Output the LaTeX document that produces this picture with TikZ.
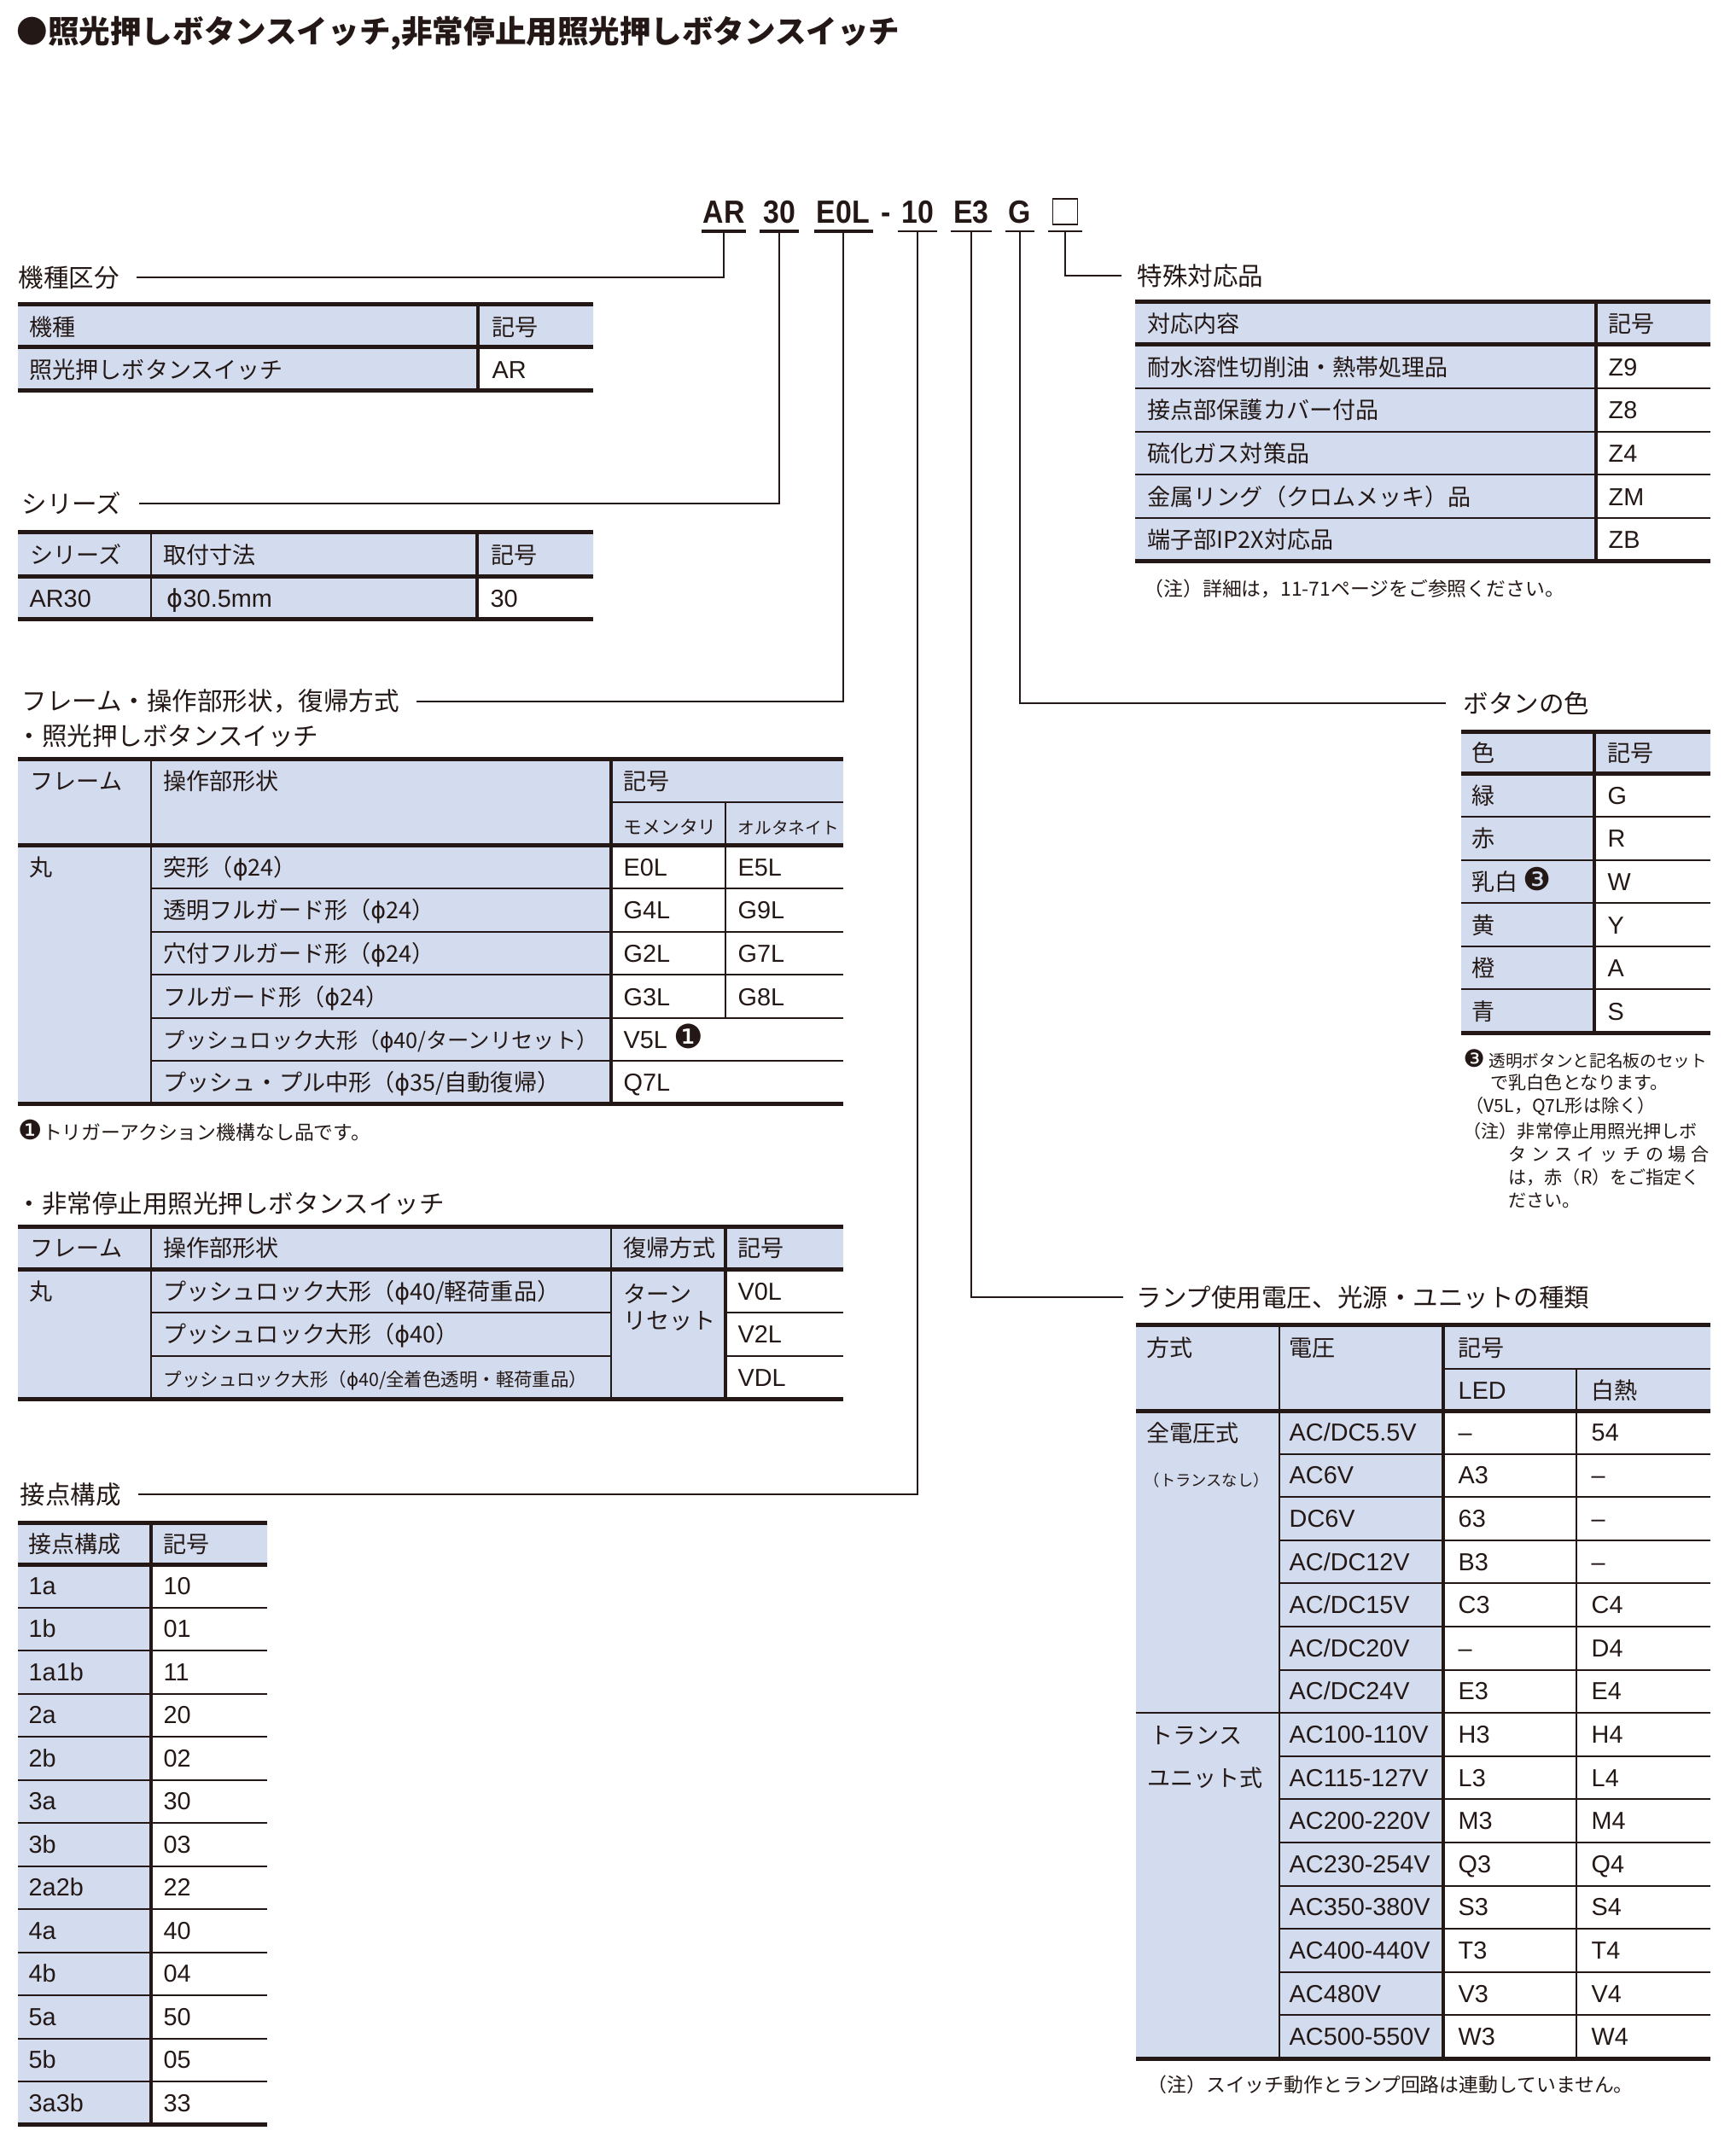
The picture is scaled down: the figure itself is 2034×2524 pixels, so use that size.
\documentclass[tikz,border=0pt]{standalone}
\usepackage{fontspec}
\setmainfont{Liberation Sans}
\newfontfamily\jpfont{Noto Sans CJK JP}
\newfontfamily\dingfont{DejaVu Sans}
\newfontfamily\partfont[FakeStretch=0.9]{Liberation Sans}
\newcommand\dia{{\dingfont ϕ}}
\newcommand\circnum[2]{{\dingfont\fontsize{#2}{#2}\selectfont #1}}
\definecolor{ink}{RGB}{35,24,21}
\definecolor{cellblue}{RGB}{211,220,238}

\begin{document}
\begin{tikzpicture}[x=0.1mm,y=-0.1mm,
  every node/.style={inner sep=0pt,text=ink},
  tcell/.style={anchor=west,font=\jpfont\fontsize{7.7}{9}\selectfont,text height=6.8pt,text depth=0.9pt},
  tcode/.style={anchor=west,font=\fontsize{8.2}{9}\selectfont,text height=6.8pt,text depth=0.9pt},
  tnote/.style={anchor=west,font=\jpfont\fontsize{6.5}{8}\selectfont},
  tsect/.style={anchor=west,font=\jpfont\fontsize{8.4}{10}\selectfont},
  codepart/.style={anchor=base,font=\partfont\bfseries\fontsize{10.7}{12}\selectfont},
  hair/.style={draw=ink,line width=0.2mm},
  heavy/.style={draw=ink,line width=0.5mm},
  colsep/.style={draw=ink,line width=0.4mm},
  link/.style={draw=ink,line width=0.2mm}]

\useasboundingbox (0,0) rectangle (2034,2524);

% title
\node[anchor=base west,font=\jpfont\bfseries\fontsize{10.4}{12}\selectfont] (title) at (19,51) {●照光押しボタンスイッチ,非常停止用照光押しボタンスイッチ};

% type code
\node[codepart] (pAR) at (848,262) {AR};
\node[codepart] (p30) at (913,262) {30};
\node[codepart] (pE0L) at (988,262) {E0L};
\node[codepart] (pDash) at (1038,262) {-};
\node[codepart] (p10) at (1075,262) {10};
\node[codepart] (pE3) at (1138,262) {E3};
\node[codepart] (pG) at (1195,262) {G};
\node[draw=ink,line width=0.15mm,minimum width=2.9mm,minimum height=3mm] (pBox) at (1248,248) {};

\draw[ink,line width=0.4mm] (822,271) -- (874,271) (890,271) -- (936,271) (954,271) -- (1023,271);
\draw[ink,line width=0.18mm] (1052,271) -- (1098,271) (1114,271) -- (1162,271) (1178,271) -- (1212,271) (1228,271) -- (1268,271);

\coordinate (uAR) at (848,271);
\coordinate (u30) at (913,271);
\coordinate (uE0L) at (988,271);
\coordinate (u10) at (1075,271);
\coordinate (uE3) at (1138,271);
\coordinate (uG) at (1195,271);
\coordinate (uBox) at (1248,271);

% section labels
\node[tsect] (sKind) at (21,325) {機種区分};
\node[tsect] (sSeries) at (25,590) {シリーズ};
\node[tsect] (sFrame) at (25,822) {フレーム・操作部形状，復帰方式};
\node[tsect] (sContact) at (23,1751) {接点構成};
\node[tsect] (sSpecial) at (1332,323) {特殊対応品};
\node[tsect] (sColor) at (1714,824) {ボタンの色};
\node[tsect] (sLamp) at (1331,1520) {ランプ使用電圧、光源・ユニットの種類};

\draw[link] (uAR) |- ([xshift=2mm]sKind.east);
\draw[link] (u30) |- ([xshift=2mm]sSeries.east);
\draw[link] (uE0L) |- ([xshift=2mm]sFrame.east);
\draw[link] (u10) |- ([xshift=2mm]sContact.east);
\draw[link] (uE3) |- ([xshift=-1.5mm]sLamp.west);
\draw[link] (uG) |- ([xshift=-2mm]sColor.west);
\draw[link] (uBox) |- ([xshift=-1.8mm]sSpecial.west);

% kind
\fill[cellblue] (21,357) rectangle (695,407) (21,407) rectangle (560,457);
\draw[heavy] (21,357) -- (695,357) (21,407) -- (695,407) (21,457) -- (695,457);
\draw[colsep] (560,357) -- (560,457);
\node[tcell] (kHead) at (34,383) {機種};
\node[tcell] (kHeadSym) at (576,383) {記号};
\node[tcell] (kName) at (34,433) {照光押しボタンスイッチ};
\node[tcode] (kSym) at (576,433) {AR};

% series
\fill[cellblue] (21,623) rectangle (695,675) (21,675) rectangle (559,725);
\draw[heavy] (21,623) -- (695,623) (21,675) -- (695,675) (21,725) -- (695,725);
\draw[hair] (177,623) -- (177,725);
\draw[colsep] (559,623) -- (559,725);
\node[tcell] (srHead) at (35,650) {シリーズ};
\node[tcell] (srHeadSize) at (191,650) {取付寸法};
\node[tcell] (srHeadSym) at (575,650) {記号};
\node[tcode] (srName) at (34,701) {AR30};
\node[tcode] (srSize) at (195,701) {\dia 30.5mm};
\node[tcode] (srSym) at (574,701) {30};

% frame, illuminated
\node[tsect] (sFrameA) at (19,862) {・照光押しボタンスイッチ};
\fill[cellblue] (21,889) rectangle (988,990) (21,990) rectangle (716,1293);
\draw[heavy] (21,889) -- (988,889) (21,990) -- (988,990) (21,1293) -- (988,1293);
\draw[hair] (716,940) -- (988,940);
\foreach \y in {1041,1092,1142,1193,1243}
  \draw[hair] (177,\y) -- (988,\y);
\draw[hair] (177,889) -- (177,1293) (850,940) -- (850,1193);
\draw[colsep] (716,889) -- (716,1293);
\node[tcell] (faHead) at (35,915) {フレーム};
\node[tcell] (faHeadOp) at (191,915) {操作部形状};
\node[tcell] (faHeadSym) at (730,915) {記号};
\node[tcell,font=\jpfont\fontsize{6.2}{7}\selectfont] (faMom) at (730,967) {モメンタリ};
\node[tcell,font=\jpfont\fontsize{5.6}{7}\selectfont] (faAlt) at (864,967) {オルタネイト};
\node[tcell] (faRound) at (34,1016) {丸};
\foreach \t/\m/\a [count=\i from 0] in {{突形（\dia 24）}/E0L/E5L, {透明フルガード形（\dia 24）}/G4L/G9L, {穴付フルガード形（\dia 24）}/G2L/G7L, {フルガード形（\dia 24）}/G3L/G8L}{
  \node[tcell] (faOp\i) at (191,{1016+\i*50.6}) {\t};
  \node[tcode] (faM\i) at (730,{1016+\i*50.6}) {\m};
  \node[tcode] (faA\i) at (864,{1016+\i*50.6}) {\a};
}
\node[tcell,font=\jpfont\fontsize{7.2}{9}\selectfont] (faOp4) at (191,1218) {プッシュロック大形（\dia 40/ターンリセット）};
\node[tcode] (faM4) at (730,1218) {V5L \circnum{❶}{11}};
\node[tcell] (faOp5) at (191,1268) {プッシュ・プル中形（\dia 35/自動復帰）};
\node[tcode] (faM5) at (730,1268) {Q7L};
\node[tnote] (faNote) at (21,1325) {\circnum{❶}{9}トリガーアクション機構なし品です。};

% frame, emergency stop
\node[tsect] (sFrameB) at (19,1410) {・非常停止用照光押しボタンスイッチ};
\fill[cellblue] (21,1437) rectangle (988,1487) (21,1487) rectangle (850,1639);
\draw[heavy] (21,1437) -- (988,1437) (21,1487) -- (988,1487) (21,1639) -- (988,1639);
\draw[hair] (177,1538) -- (716,1538) (177,1589) -- (716,1589) (850,1538) -- (988,1538) (850,1589) -- (988,1589);
\draw[hair] (177,1437) -- (177,1639) (716,1437) -- (716,1639);
\draw[colsep] (850,1437) -- (850,1639);
\node[tcell] (fbHead) at (35,1462) {フレーム};
\node[tcell] (fbHeadOp) at (191,1462) {操作部形状};
\node[tcell] (fbHeadRet) at (730,1462) {復帰方式};
\node[tcell] (fbHeadSym) at (864,1462) {記号};
\node[tcell] (fbRound) at (34,1513) {丸};
\node[tcell] (fbRet) at (730,1516) {ターン};
\node[tcell] (fbRet2) at (730,1547) {リセット};
\node[tcell] (fbOp0) at (191,1513) {プッシュロック大形（\dia 40/軽荷重品）};
\node[tcell] (fbOp1) at (191,1563) {プッシュロック大形（\dia 40）};
\node[tcell,font=\jpfont\fontsize{6.1}{7}\selectfont] (fbOp2) at (191,1614) {プッシュロック大形（\dia 40/全着色透明・軽荷重品）};
\node[tcode] (fbSym0) at (864,1513) {V0L};
\node[tcode] (fbSym1) at (864,1563) {V2L};
\node[tcode] (fbSym2) at (864,1614) {VDL};

% contacts
\fill[cellblue] (21,1784) rectangle (313,1833) (21,1833) rectangle (177,2489);
\draw[heavy] (21,1784) -- (313,1784) (21,1833) -- (313,1833) (21,2489) -- (313,2489);
\foreach \i in {1,...,12}
  \draw[hair] (21,{1833+\i*50.5}) -- (313,{1833+\i*50.5});
\draw[colsep] (177,1784) -- (177,2489);
\node[tcell] (ctHead) at (33,1809) {接点構成};
\node[tcell] (ctHeadSym) at (191,1809) {記号};
\foreach \c/\s [count=\i from 0] in {1a/10,1b/01,1a1b/11,2a/20,2b/02,3a/30,3b/03,2a2b/22,4a/40,4b/04,5a/50,5b/05,3a3b/33}{
  \node[tcode] (ctC\i) at (33,{1858+\i*50.5}) {\c};
  \node[tcode] (ctS\i) at (191,{1858+\i*50.5}) {\s};
}

% special versions
\fill[cellblue] (1330,354) rectangle (2004,404) (1330,404) rectangle (1870,657);
\draw[heavy] (1330,354) -- (2004,354) (1330,404) -- (2004,404) (1330,657) -- (2004,657);
\foreach \y in {455,506,556,607}
  \draw[hair] (1330,\y) -- (2004,\y);
\draw[colsep] (1870,354) -- (1870,657);
\node[tcell] (spHead) at (1344,379) {対応内容};
\node[tcell] (spHeadSym) at (1884,379) {記号};
\foreach \t/\s [count=\i from 0] in {耐水溶性切削油・熱帯処理品/Z9, 接点部保護カバー付品/Z8, 硫化ガス対策品/Z4, 金属リング（クロムメッキ）品/ZM, 端子部IP2X対応品/ZB}{
  \node[tcell] (spT\i) at (1344,{430+\i*50.6}) {\t};
  \node[tcode] (spS\i) at (1884,{430+\i*50.6}) {\s};
}
\node[tnote] (spNote) at (1340,690) {（注）詳細は，11-71ページをご参照ください。};

% button colour
\fill[cellblue] (1712,857) rectangle (2004,906) (1712,906) rectangle (1868,1210);
\draw[heavy] (1712,857) -- (2004,857) (1712,906) -- (2004,906) (1712,1210) -- (2004,1210);
\foreach \y in {957,1008,1058,1109,1159}
  \draw[hair] (1712,\y) -- (2004,\y);
\draw[colsep] (1868,857) -- (1868,1210);
\node[tcell] (clHead) at (1724,882) {色};
\node[tcell] (clHeadSym) at (1883,882) {記号};
\foreach \c/\s [count=\i from 0] in {緑/G, 赤/R, {乳白 \circnum{❸}{10.5}}/W, 黄/Y, 橙/A, 青/S}{
  \node[tcell] (clC\i) at (1724,{932+\i*50.6}) {\c};
  \node[tcode] (clS\i) at (1883,{932+\i*50.6}) {\s};
}
\node[tnote,font=\jpfont\fontsize{5.6}{7}\selectfont] (clNote1) at (1714,1241) {\circnum{❸}{8} 透明ボタンと記名板のセット};
\node[tnote,font=\jpfont\fontsize{6}{7}\selectfont] (clNote2) at (1746,1268) {で乳白色となります。};
\node[tnote,font=\jpfont\fontsize{6}{7}\selectfont] (clNote3) at (1717,1296) {（V5L，Q7L形は除く）};
\node[tnote,font=\jpfont\fontsize{6}{7}\selectfont] (clNote4) at (1714,1325) {（注）非常停止用照光押しボ};
\node[tnote,font=\jpfont\fontsize{6}{7}\selectfont] (clNote5) at (1767,1353) {\makebox[23.5mm][s]{タ\hfill ン\hfill ス\hfill イ\hfill ッ\hfill チ\hfill の\hfill 場\hfill 合}};
\node[tnote,font=\jpfont\fontsize{6}{7}\selectfont] (clNote6) at (1767,1380) {は，赤（R）をご指定く};
\node[tnote,font=\jpfont\fontsize{6}{7}\selectfont] (clNote7) at (1767,1407) {ださい。};

% lamp voltage
\fill[cellblue] (1331,1552) rectangle (2004,1653) (1331,1653) rectangle (1691,2412);
\draw[heavy] (1331,1552) -- (2004,1552) (1331,1653) -- (2004,1653) (1331,2412) -- (2004,2412);
\draw[hair] (1691,1604) -- (2004,1604);
\foreach \i in {1,...,14}
  \draw[hair] (1499,{1653+\i*50.6}) -- (2004,{1653+\i*50.6});
\draw[hair] (1331,2007) -- (1499,2007);
\draw[hair] (1499,1552) -- (1499,2412) (1847,1604) -- (1847,2412);
\draw[colsep] (1691,1552) -- (1691,2412);
\node[tcell] (lpHead) at (1343,1579) {方式};
\node[tcell] (lpHeadV) at (1510,1579) {電圧};
\node[tcell] (lpHeadSym) at (1708,1579) {記号};
\node[tcode] (lpHeadLed) at (1708,1629) {LED};
\node[tcell] (lpHeadInc) at (1864,1629) {白熱};
\node[tcell] (lpAll) at (1343,1679) {全電圧式};
\node[tcell,font=\jpfont\fontsize{5.2}{7}\selectfont] (lpAll2) at (1340,1731) {（トランスなし）};
\node[tcell] (lpTr) at (1347,2033) {トランス};
\node[tcell] (lpTr2) at (1344,2083) {ユニット式};
\foreach \v/\l/\w [count=\i from 0] in {{AC/DC5.5V}/–/54, AC6V/A3/–, DC6V/63/–, {AC/DC12V}/B3/–, {AC/DC15V}/C3/C4, {AC/DC20V}/–/D4, {AC/DC24V}/E3/E4, AC100-110V/H3/H4, AC115-127V/L3/L4, AC200-220V/M3/M4, AC230-254V/Q3/Q4, AC350-380V/S3/S4, AC400-440V/T3/T4, AC480V/V3/V4, AC500-550V/W3/W4}{
  \node[tcode] (lpV\i) at (1510,{1678+\i*50.6}) {\v};
  \node[tcode] (lpL\i) at (1708,{1678+\i*50.6}) {\l};
  \node[tcode] (lpW\i) at (1864,{1678+\i*50.6}) {\w};
}
\node[tnote] (lpNote) at (1344,2443) {（注）スイッチ動作とランプ回路は連動していません。};

\end{tikzpicture}
\end{document}
